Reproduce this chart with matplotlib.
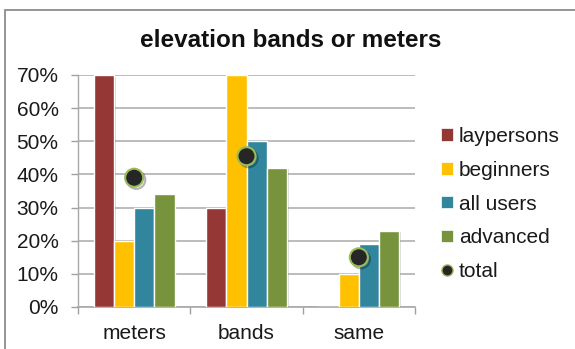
import matplotlib
matplotlib.use("Agg")
import matplotlib.pyplot as plt
import matplotlib.patheffects as pe
from matplotlib.patches import Rectangle
from matplotlib.lines import Line2D
from matplotlib.ticker import PercentFormatter, FixedLocator
import numpy as np

plt.rcParams['font.family'] = ['Liberation Sans', 'DejaVu Sans']

categories = ["meters", "bands", "same"]
laypersons = [70, 30, 0]
beginners = [20, 70, 10]
all_users = [30, 50, 19]
advanced = [34, 42, 23]
total = [39, 45.5, 15]

series = [
    ("laypersons", laypersons, "#953735"),
    ("beginners", beginners, "#FFC000"),
    ("all users", all_users, "#31859C"),
    ("advanced", advanced, "#77933C"),
]

fig = plt.figure(figsize=(5.75, 3.49), dpi=100)
fig.patch.set_facecolor("white")

# outer chart frame (top and left edges visible)
frame = Rectangle((5 / 575, -0.2), 1.2, 1 - 10 / 349 + 0.2,
                  transform=fig.transFigure, facecolor="white",
                  edgecolor="#8c8c8c", linewidth=1.3, zorder=-5,
                  path_effects=[pe.SimplePatchShadow(offset=(1.5, -1.5), alpha=0.25),
                                pe.Normal()])
fig.patches.append(frame)

ax = fig.add_axes([78 / 575, 1 - 307 / 349, (415 - 78) / 575, (307 - 75) / 349])
ax.set_facecolor("none")
ax.set_zorder(2)

x = np.arange(len(categories))
bw = 0.18
offsets = (np.arange(len(series)) - 1.5) * bw
shadow = [pe.SimplePatchShadow(offset=(1.2, -1.2), alpha=0.18), pe.Normal()]
bar_handles = []
for (name, vals, color), off in zip(series, offsets):
    bars = ax.bar(x + off, np.array(vals) / 100, width=bw, color=color,
                  edgecolor="white", linewidth=1.0, label=name, zorder=3)
    for b in bars:
        b.set_path_effects(shadow)
    bar_handles.append(Rectangle((0, 0), 1, 1, facecolor=color, edgecolor="white",
                                 linewidth=0.5))

ax.plot(x, np.array(total) / 100, linestyle="none", marker="o",
        markersize=13, markerfacecolor="#262626", markeredgecolor="#9BBB59",
        markeredgewidth=1.5, zorder=5,
        path_effects=[pe.SimpleLineShadow(offset=(1.5, -1.5), alpha=0.3), pe.Normal()])
total_handle = Line2D([], [], linestyle="none", marker="o", markersize=8,
                      markerfacecolor="#262626", markeredgecolor="#9BBB59",
                      markeredgewidth=1.0)

ax.set_xlim(-0.5, 2.5)
ax.set_ylim(0, 0.70)
ax.set_yticks(np.arange(0, 0.71, 0.1))
ax.yaxis.set_major_formatter(PercentFormatter(1.0, decimals=0))
ax.grid(axis="y", color="#b0b0b0", linewidth=1.2, zorder=0)
ax.set_axisbelow(True)

ax.set_xticks(x)
ax.set_xticklabels(categories)
ax.xaxis.set_minor_locator(FixedLocator([-0.5, 0.5, 1.5, 2.5]))
ax.tick_params(axis="x", which="major", length=0, pad=12, labelsize=15, labelcolor="#1a1a1a")
ax.tick_params(axis="x", which="minor", length=5, width=1.0, color="#a0a0a0", direction="out")
ax.tick_params(axis="y", length=5, width=1.0, color="#a0a0a0", pad=9, labelsize=15,
               labelcolor="#1a1a1a")

for s in ["top", "right"]:
    ax.spines[s].set_visible(False)
ax.spines["left"].set_color("#a8a8a8")
ax.spines["bottom"].set_color("#a8a8a8")
ax.spines["left"].set_linewidth(1.0)
ax.spines["bottom"].set_linewidth(1.2)

fig.text(291 / 575, 1 - 47 / 349, "elevation bands or meters", ha="center", va="baseline",
         fontsize=17.5, fontweight="bold", color="#111111")

labels = [s[0] for s in series] + ["total"]
leg = fig.legend(bar_handles + [total_handle], labels, loc="center left",
                 bbox_to_anchor=(433 / 575, 1 - 204 / 349), frameon=False,
                 fontsize=15, handlelength=0.55, handleheight=0.55,
                 handletextpad=0.3, labelspacing=0.71, borderaxespad=0)
for t in leg.get_texts():
    t.set_color("#1a1a1a")

fig.savefig("out.png", dpi=100)
